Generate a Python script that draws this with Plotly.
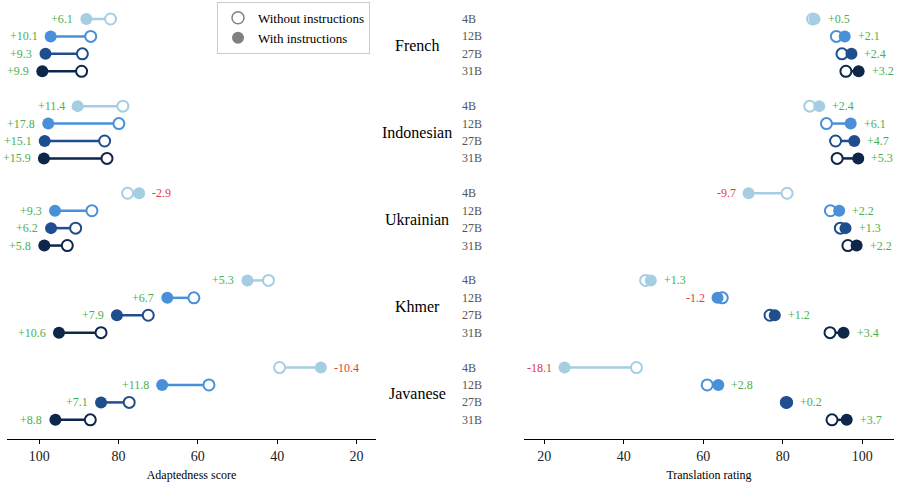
import plotly.graph_objects as go

languages = ["French", "Indonesian", "Ukrainian", "Khmer", "Javanese"]
models = ["4B", "12B", "27B", "31B"]
colors = ["#a6cee3", "#4a90d9", "#1f4e8f", "#0d2649"]

# Adaptedness score (left panel): [language][model]
adapt_without = [
    [82.0, 87.0, 89.1, 89.3],
    [78.9, 79.9, 83.5, 82.9],
    [77.7, 86.7, 90.8, 92.9],
    [42.2, 61.0, 72.5, 84.4],
    [39.4, 57.2, 77.3, 87.1],
]
adapt_delta = [
    [6.1, 10.1, 9.3, 9.9],
    [11.4, 17.8, 15.1, 15.9],
    [-2.9, 9.3, 6.2, 5.8],
    [5.3, 6.7, 7.9, 10.6],
    [-10.4, 11.8, 7.1, 8.8],
]
# Translation rating (right panel)
trans_without = [
    [87.5, 93.5, 94.9, 95.9],
    [86.8, 91.0, 93.3, 93.7],
    [81.1, 92.0, 94.5, 96.4],
    [45.5, 64.8, 76.8, 91.9],
    [43.2, 61.0, 80.9, 92.4],
]
trans_delta = [
    [0.5, 2.1, 2.4, 3.2],
    [2.4, 6.1, 4.7, 5.3],
    [-9.7, 2.2, 1.3, 2.2],
    [1.3, -1.2, 1.2, 3.4],
    [-18.1, 2.8, 0.2, 3.7],
]

W, H = 901, 488
SERIF = "Liberation Serif"
GREEN = "#4cb04c"
RED = "#e8383d"

def slot(li, mi):
    return li * 5 + mi

fig = go.Figure()
annotations = []

def add_panel(without, delta, xa, ya, left_panel):
    for mi, m in enumerate(models):
        lx, ly = [], []
        ox, oy, fx, fy = [], [], [], []
        for li in range(len(languages)):
            wo = without[li][mi]
            d = delta[li][mi]
            wi = round(wo + d, 2)
            y = slot(li, mi)
            lx += [wo, wi, None]
            ly += [y, y, None]
            ox.append(wo); oy.append(y)
            fx.append(wi); fy.append(y)
            to_left = (d >= 0) if left_panel else (d < 0)
            annotations.append(dict(
                x=wi, y=y, xref=xa, yref=ya, text=f"{d:+.1f}", showarrow=False,
                xanchor="right" if to_left else "left", yanchor="middle",
                xshift=-11 if to_left else 11,
                font=dict(family=SERIF, size=12, color=GREEN if d >= 0 else RED)))
        fig.add_trace(go.Scatter(x=lx, y=ly, mode="lines", xaxis=xa, yaxis=ya,
                                 line=dict(color=colors[mi], width=2.5),
                                 showlegend=False, hoverinfo="skip"))
        fig.add_trace(go.Scatter(x=ox, y=oy, mode="markers", xaxis=xa, yaxis=ya,
                                 marker=dict(size=11, color="white", symbol="circle",
                                             line=dict(color=colors[mi], width=2)),
                                 showlegend=False))
        fig.add_trace(go.Scatter(x=fx, y=fy, mode="markers", xaxis=xa, yaxis=ya,
                                 marker=dict(size=12, color=colors[mi], line=dict(width=0)),
                                 showlegend=False))

add_panel(adapt_without, adapt_delta, "x", "y", True)
add_panel(trans_without, trans_delta, "x2", "y2", False)

# legend entries
fig.add_trace(go.Scatter(x=[None], y=[None], mode="markers", name="Without instructions",
                         marker=dict(size=12, color="white", line=dict(color="#808080", width=1.5))))
fig.add_trace(go.Scatter(x=[None], y=[None], mode="markers", name="With instructions",
                         marker=dict(size=12, color="#808080")))

for li, lang in enumerate(languages):
    annotations.append(dict(x=417 / W, xref="paper", y=slot(li, 1.5), yref="y",
                            text=lang, showarrow=False, xanchor="center", yanchor="middle",
                            font=dict(family=SERIF, size=16, color="black")))
    for mi, m in enumerate(models):
        annotations.append(dict(x=460 / W, xref="paper", y=slot(li, mi), yref="y",
                                text=m, showarrow=False, xanchor="left", yanchor="middle",
                                font=dict(family=SERIF, size=12, color="#555555")))

yr = [24.1, -1.09]
axis_common = dict(showline=True, linecolor="black", linewidth=1, ticks="outside",
                   ticklen=4, tickcolor="black", showgrid=False, zeroline=False,
                   tickfont=dict(family=SERIF, size=14, color="#222"),
                   tickvals=[20, 40, 60, 80, 100])

fig.update_layout(
    width=W, height=H,
    margin=dict(l=0, r=0, t=0, b=49),
    plot_bgcolor="white", paper_bgcolor="white",
    xaxis=dict(domain=[7 / W, 376 / W], range=[108.1, 15.1], anchor="y",
               title=dict(text="Adaptedness score", font=dict(family=SERIF, size=12, color="black"), standoff=7),
               **axis_common),
    xaxis2=dict(domain=[524 / W, 894 / W], range=[14.9, 108.0], anchor="y2",
                title=dict(text="Translation rating", font=dict(family=SERIF, size=12, color="black"), standoff=7),
                **axis_common),
    yaxis=dict(range=yr, visible=False, anchor="x"),
    yaxis2=dict(range=yr, visible=False, anchor="x2"),
    legend=dict(x=217 / W, y=1 - 2 / H, xanchor="left", yanchor="top",
                bordercolor="#cccccc", borderwidth=1, bgcolor="white",
                font=dict(family=SERIF, size=13, color="black"),
                tracegroupgap=0, itemwidth=30),
    annotations=annotations,
    showlegend=True,
)

fig.write_html("out.html")
